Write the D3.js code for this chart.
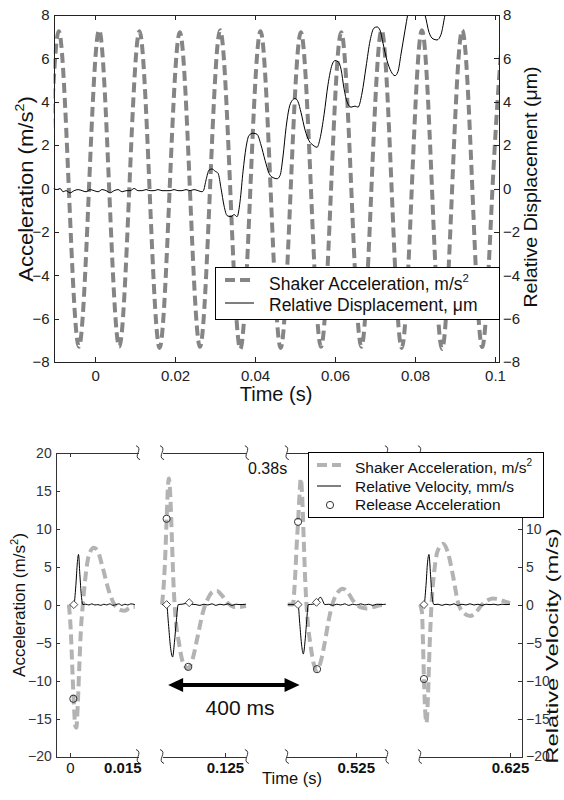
<!DOCTYPE html>
<html><head><meta charset="utf-8">
<script src="https://cdn.jsdelivr.net/npm/d3@7"></script>
<style>body{margin:0;background:#fff}svg{display:block}</style>
</head><body><svg id="c" width="564" height="800"></svg>
<script>
// ================= DATA =================
// --- top chart ---
const topXDomain = [-0.0104, 0.101];
const topYDomain = [-8, 8];
const topXTicks = [0, 0.02, 0.04, 0.06, 0.08, 0.1];
const topXTickLabels = ["0", "0.02", "0.04", "0.06", "0.08", "0.1"];
const topYTicks = [-8, -6, -4, -2, 0, 2, 4, 6, 8];
// shaker acceleration (m/s^2): [time s, value] at peaks, zero crossings and troughs
const shakerAccelTop = [
  [-0.01161,0],[-0.00909,7.25],[-0.00657,0],[-0.00405,-7.3],[-0.00153,0],[0.001,7.3],[0.00352,0],[0.00604,-7.3],
  [0.00856,0],[0.01109,7.25],[0.01361,0],[0.01613,-7.35],[0.01865,0],[0.02118,7.2],[0.0237,0],[0.02622,-7.3],
  [0.02874,0],[0.03127,7.3],[0.03379,0],[0.03631,-7.4],[0.03883,0],[0.04136,7.25],[0.04388,0],[0.0464,-7.35],
  [0.04892,0],[0.05145,7.2],[0.05397,0],[0.05649,-7.3],[0.05901,0],[0.06154,7.2],[0.06406,0],[0.06658,-7.3],
  [0.0691,0],[0.07163,7.3],[0.07415,0],[0.07667,-7.35],[0.07919,0],[0.08172,7.3],[0.08424,0],[0.08676,-7.4],
  [0.08928,0],[0.09181,7.3],[0.09433,0],[0.09685,-7.3],[0.09937,0],[0.1019,7.3]
];
// relative displacement (um): [time s, value]
const relDisplacement = [
  [-0.0104,0],[-0.0095,-0.05],[-0.00875,0],[-0.008,-0.15],[-0.00725,-0.1],[-0.00625,-0.2],[-0.00525,-0.1],
  [-0.00425,-0.05],[-0.00325,-0.1],[-0.00225,-0.15],[-0.00125,-0.05],[-0.00025,-0.1],[0.00075,-0.15],
  [0.00175,-0.05],[0.00275,-0.1],[0.00375,-0.2],[0.00475,-0.1],[0.00575,-0.05],[0.00675,-0.15],[0.00775,-0.1],
  [0.00875,-0.1],[0.00975,0],[0.01075,-0.1],[0.01175,-0.1],[0.01275,-0.05],[0.01375,-0.1],[0.01475,-0.1],
  [0.01575,-0.05],[0.01675,-0.1],[0.01775,-0.1],[0.01875,-0.1],[0.01975,-0.05],[0.02075,-0.1],[0.02175,-0.1],
  [0.02275,-0.05],[0.02375,-0.1],[0.02475,-0.05],[0.02575,-0.1],[0.02675,-0.15],
  [0.0271,-0.1],[0.02775,0.4],[0.0285,0.85],[0.02925,0.9],[0.03,0.8],[0.03075,0.7],[0.0315,0.0],[0.03225,-0.8],
  [0.033,-1.25],[0.034,-1.3],[0.03475,-1.2],[0.0355,-1.3],[0.03625,-0.6],[0.037,0.8],[0.03775,1.9],[0.0385,2.45],
  [0.0395,2.55],[0.0405,2.5],[0.0415,2.0],[0.0425,1.3],[0.0435,0.7],[0.0445,0.5],[0.0455,0.45],[0.04625,0.6],
  [0.047,1.5],[0.04775,2.8],[0.0485,3.7],[0.04925,4.05],[0.05,4.15],[0.05075,4.0],[0.0515,3.5],[0.0525,2.7],
  [0.0535,2.2],[0.0545,2.0],[0.0555,1.9],[0.05625,2.3],[0.05725,3.4],[0.05825,4.8],[0.05925,5.7],[0.06,5.9],
  [0.06075,5.85],[0.0615,5.5],[0.06225,4.6],[0.063,4.0],[0.064,3.75],[0.065,3.8],[0.06575,3.75],[0.06675,4.4],
  [0.06775,5.6],[0.06875,6.8],[0.06975,7.4],[0.0705,7.45],[0.07125,7.3],[0.072,6.7],[0.073,5.9],[0.074,5.4],
  [0.075,5.2],[0.07575,5.4],[0.0765,6.2],[0.0775,7.3],[0.07825,8.1],[0.07925,9.0],[0.0805,9.0],[0.0815,8.4],
  [0.0825,8.0],[0.0835,7.2],[0.0845,6.9],[0.0855,6.85],[0.0865,7.1],[0.0875,8.0],[0.08875,9.0],[0.09125,9.8],
  [0.09625,9.5],[0.101,10]
];
const topLegendLabels = ["Shaker Acceleration, m/s", "Relative Displacement, \u03bcm"];

// --- bottom chart (broken time axis) ---
const bottomYDomain = [-20, 20];
const bottomYTicks = [-20, -15, -10, -5, 0, 5, 10, 15, 20];
const bottomRightTicks = [-20, -15, -10, -5, 0, 5, 10];
const segDomains = [[-0.004, 0.0193], [0.1072, 0.1312], [0.5055, 0.5338], [0.5995, 0.6284]];
const segTicks = [0, 0.125, 0.525, 0.625];
const segTickLabels = ["0", "0.125", "0.525", "0.625"];
const segTickBold = [false, true, true, true];
const extraLabel = {seg: 0, t: 0.015, text: "0.015"};
const breakLabel = "0.38s";
const periodLabel = "400 ms";
// shaker acceleration per pulse [time s, m/s^2]
const pulseAccel = [
  [[-0.00028,0],[0.00028,-3.5],[0.00071,-8.5],[0.00113,-13],[0.00156,-16],[0.00184,-16.2],[0.00226,-13],[0.00269,-8],
   [0.00311,-3.5],[0.00368,0],[0.00439,3.5],[0.00538,6.5],[0.00679,7.5],[0.00793,7.0],[0.00934,4.8],[0.01104,1.8],
   [0.01274,-0.1],[0.01415,-0.7],[0.01557,-0.8],[0.01698,-0.4],[0.0184,-0.3]],
  [[0.10717,0],[0.10774,3],[0.10816,7],[0.1085,11.3],[0.10887,15.5],[0.10915,16.6],[0.10957,14],[0.11,8.5],
   [0.11042,3],[0.11099,-1.5],[0.11198,-5],[0.11311,-7.6],[0.11453,-8.4],[0.11594,-7],[0.11736,-4],[0.11877,-1],
   [0.12019,0.8],[0.1216,1.7],[0.12274,1.8],[0.12415,1.2],[0.12585,0.2],[0.12755,-0.3],[0.12925,-0.3],[0.13094,-0.2]],
  [[0.50575,0],[0.50717,0],[0.50788,4],[0.5083,8],[0.50867,10.9],[0.50915,15],[0.50943,16.6],[0.50986,14],
   [0.51028,8.5],[0.51071,3],[0.51127,-1.5],[0.51226,-5.5],[0.51311,-7.8],[0.5141,-8.6],[0.51509,-7.5],[0.51623,-5],
   [0.51736,-2],[0.51849,0.2],[0.51991,1.6],[0.52132,2.1],[0.52274,1.6],[0.52443,0.4],[0.52613,-0.3],[0.52811,-0.5],
   [0.53009,-0.3],[0.53179,-0.1],[0.53349,0]],
  [[0.59953,0],[0.6001,-1],[0.60038,-5],[0.60066,-9.8],[0.601,-14],[0.60137,-15.6],[0.6018,-12],[0.60222,-6],
   [0.60279,0],[0.60349,4],[0.60448,7],[0.60604,8],[0.60746,6.8],[0.60887,3.8],[0.61029,0.3],[0.6117,-1.0],
   [0.61368,-1.5],[0.61538,-1.0],[0.61707,0],[0.61877,0.6],[0.62019,0.8],[0.62189,0.7],[0.62358,0.4],[0.625,0.2]]
];
// relative velocity per pulse [time s, mm/s]
const pulseVelocity = [
  [[0,0],[0.00113,0],[0.0017,2.5],[0.00212,5.5],[0.00246,6.6],[0.00283,4],[0.00326,1.2],[0.00368,0],
   [0.00453,0.05],[0.00538,-0.05],[0.00623,0.1],[0.00708,-0.05],[0.00793,0],[0.00877,-0.1],[0.00962,0.05],
   [0.01047,-0.05],[0.01132,0.1],[0.01217,-0.1],[0.01302,0],[0.01387,0.1],[0.01472,-0.1],[0.01557,0.05],
   [0.01642,-0.05],[0.01727,0.1],[0.0184,0]],
  [[0.10717,0],[0.1085,0],[0.10901,-2.5],[0.10957,-5.5],[0.11019,-6.9],[0.1107,-5],[0.11127,-2],[0.11178,0],
   [0.11283,0.05],[0.11396,0.15],[0.11489,0.3],[0.11566,0.05],[0.11679,0],[0.11792,-0.1],[0.11906,0.05],
   [0.12019,-0.05],[0.12132,0.1],[0.12245,-0.1],[0.12358,0.05],[0.12472,-0.05],[0.12585,0.1],[0.12698,-0.1],
   [0.12811,0.05],[0.12925,0],[0.13094,0.05]],
  [[0.50575,0],[0.50867,0],[0.50915,-2.5],[0.50972,-5.5],[0.51014,-6.5],[0.51071,-4.5],[0.51113,-2],[0.51156,0],
   [0.51283,0.05],[0.51388,0.3],[0.51453,0.8],[0.5151,0.95],[0.51566,0.5],[0.51623,0],[0.51736,0.05],[0.51849,-0.1],
   [0.51962,0.05],[0.52075,-0.05],[0.52189,0.1],[0.52302,-0.1],[0.52415,0.05],[0.52528,-0.05],[0.52642,0.1],
   [0.52755,-0.05],[0.52868,0.05],[0.52981,-0.1],[0.53094,0.05],[0.53207,0],[0.53349,0.05]],
  [[0.59953,0],[0.60066,0],[0.60123,2.5],[0.60166,5.5],[0.60208,6.6],[0.60251,4],[0.60293,1.2],[0.6035,0],
   [0.60463,0.05],[0.60576,-0.1],[0.60689,0.05],[0.60802,-0.05],[0.60915,0.1],[0.61029,-0.1],[0.61142,0.05],
   [0.61255,-0.05],[0.61368,0.1],[0.61481,-0.05],[0.61594,0.05],[0.61707,-0.1],[0.6182,0.05],[0.61934,0],
   [0.62047,0.05],[0.6216,-0.05],[0.62273,0.05],[0.62387,0],[0.625,0.05]]
];
// release acceleration markers per pulse [time s, m/s^2]
const releaseAccel = [
  [[0.00099,-12.4]],
  [[0.1085,11.3],[0.11462,-8.2]],
  [[0.50867,10.9],[0.51404,-8.5]],
  [[0.60066,-9.8]]
];
// velocity zero markers (diamonds) per pulse
const velocityMarks = [
  [[0.00113,0]],
  [[0.1085,0],[0.11489,0.25]],
  [[0.50867,0],[0.51388,0.3]],
  [[0.60066,0]]
];
const bottomLegendLabels = ["Shaker Acceleration, m/s", "Relative Velocity, mm/s", "Release Acceleration"];

// ================= DRAW =================
const FONT = '"Liberation Sans", Arial, Helvetica, sans-serif';
const svg = d3.select("#c");
const AX = "#222";

function styleAxis(g, size, color, bold) {
  g.attr("font-family", FONT).attr("font-size", size).attr("color", color || AX);
  g.selectAll("path,line").attr("stroke", color || AX).attr("shape-rendering", "crispEdges");
  if (bold) g.selectAll("text").attr("font-weight", "bold");
}
function label(parent, x, y, size, parts, opt) {
  opt = opt || {};
  const g = parent.append("g").attr("transform",
    `translate(${x},${y}) scale(1,${opt.sy || 1}) rotate(${opt.rot || 0})`);
  const t = g.append("text").attr("font-family", FONT).attr("font-size", size)
    .attr("text-anchor", opt.anchor || "middle").attr("fill", opt.fill || "#111")
    .attr("font-weight", opt.weight || "normal");
  parts.forEach(p => {
    if (typeof p === "string") t.append("tspan").text(p);
    else if (p.sup) t.append("tspan").attr("font-size", size * 0.65).attr("dy", -size * 0.45).text(p.sup);
    else if (p.down) t.append("tspan").attr("dy", size * 0.45).text(p.down);
  });
  return t;
}

// ---------- TOP CHART ----------
const T = {l: 53.5, r: 499, t: 15, b: 362};
const xT = d3.scaleLinear().domain(topXDomain).range([T.l, T.r]);
const yT = d3.scaleLinear().domain(topYDomain).range([T.b, T.t]);
const gT = svg.append("g");
svg.append("clipPath").attr("id", "clipT").append("rect")
  .attr("x", T.l).attr("y", T.t).attr("width", T.r - T.l).attr("height", T.b - T.t);

const plotT = gT.append("g").attr("clip-path", "url(#clipT)");
plotT.append("path").datum(shakerAccelTop)
  .attr("d", d3.line().x(d => xT(d[0])).y(d => yT(d[1])).curve(d3.curveNatural))
  .attr("fill", "none").attr("stroke", "#858585").attr("stroke-width", 4).attr("stroke-dasharray", "10,5");
plotT.append("path").datum(relDisplacement)
  .attr("d", d3.line().x(d => xT(d[0])).y(d => yT(d[1])).curve(d3.curveMonotoneX))
  .attr("fill", "none").attr("stroke", "#000").attr("stroke-width", 1);

const axB = gT.append("g").attr("transform", `translate(0,${T.b})`)
  .call(d3.axisBottom(xT).tickValues(topXTicks).tickFormat((d, i) => topXTickLabels[i])
    .tickSizeInner(-5).tickSizeOuter(0).tickPadding(8));
styleAxis(axB, 15);
const axTop = gT.append("g").attr("transform", `translate(0,${T.t})`)
  .call(d3.axisTop(xT).tickValues(topXTicks).tickFormat("").tickSizeInner(-5).tickSizeOuter(0));
styleAxis(axTop, 15);
const axL = gT.append("g").attr("transform", `translate(${T.l},0)`)
  .call(d3.axisLeft(yT).tickValues(topYTicks).tickSizeInner(-5).tickSizeOuter(0).tickPadding(4));
styleAxis(axL, 15);
const axR = gT.append("g").attr("transform", `translate(${T.r},0)`)
  .call(d3.axisRight(yT).tickValues(topYTicks).tickSizeInner(-5).tickSizeOuter(0).tickPadding(4));
styleAxis(axR, 15);

label(svg, 33, 189, 21, ["Acceleration (m/s", {sup: "2"}, {down: ")"}], {rot: -90, sy: 1.05});
label(svg, 537, 187, 18, ["Relative Displacement (\u03bcm)"], {rot: -90, sy: 1.09});
label(svg, 276, 401, 20, ["Time (s)"]);

// top legend
const lgT = svg.append("g");
lgT.append("rect").attr("x", 215).attr("y", 267).attr("width", T.r - 215).attr("height", 52)
  .attr("fill", "#fff").attr("stroke", "#000").attr("stroke-width", 1).attr("shape-rendering", "crispEdges");
lgT.append("line").attr("x1", 225).attr("x2", 254).attr("y1", 280).attr("y2", 280)
  .attr("stroke", "#858585").attr("stroke-width", 4).attr("stroke-dasharray", "10,5");
lgT.append("line").attr("x1", 225).attr("x2", 254).attr("y1", 303).attr("y2", 303)
  .attr("stroke", "#000").attr("stroke-width", 1);
label(lgT, 269, 290, 17.5, [topLegendLabels[0], {sup: "2"}], {anchor: "start"});
label(lgT, 269, 311, 17.5, [topLegendLabels[1]], {anchor: "start"});

// ---------- BOTTOM CHART ----------
const B = {l: 55.7, r: 522, t: 452.7, b: 756.5};
const BC = "#333";
const yB = d3.scaleLinear().domain(bottomYDomain).range([B.b, B.t]);
const gaps = [24, 40, 33];
const totalSpan = d3.sum(segDomains, d => d[1] - d[0]);
const pxPerSec = (B.r - B.l - d3.sum(gaps)) / totalSpan;
let cursor = B.l;
const segScales = segDomains.map((d, i) => {
  const w = (d[1] - d[0]) * pxPerSec;
  const s = d3.scaleLinear().domain(d).range([cursor, cursor + w]);
  cursor += w + (gaps[i] || 0);
  return s;
});

const gB = svg.append("g");
const bL = gB.append("g").attr("transform", `translate(${B.l},0)`)
  .call(d3.axisLeft(yB).tickValues(bottomYTicks).tickSizeInner(-4).tickSizeOuter(0).tickPadding(4));
styleAxis(bL, 14, BC);
const bR = gB.append("g").attr("transform", `translate(${B.r},0)`)
  .call(d3.axisRight(yB).tickValues(bottomRightTicks).tickSizeInner(-4).tickSizeOuter(0).tickPadding(4));
styleAxis(bR, 14, BC);

function squiggle(x, y, dir) {
  return `M${x - 2 * dir},${y - 7} C${x + 6 * dir},${y - 4} ${x - 6 * dir},${y + 4} ${x + 2 * dir},${y + 7}`;
}
segScales.forEach((s, i) => {
  const bot = gB.append("g").attr("transform", `translate(0,${B.b})`)
    .call(d3.axisBottom(s).tickValues([segTicks[i]]).tickFormat(() => segTickLabels[i])
      .tickSizeInner(-4).tickSizeOuter(0).tickPadding(6));
  styleAxis(bot, 15, BC, segTickBold[i]);
  bot.selectAll("text").attr("fill", "#111");
  const top = gB.append("g").attr("transform", `translate(0,${B.t})`)
    .call(d3.axisTop(s).tickValues(i === 0 ? [segTicks[i]] : []).tickFormat("").tickSizeInner(-4).tickSizeOuter(0));
  styleAxis(top, 15, BC);
  const [r0, r1] = s.range();
  [B.t, B.b].forEach(yy => {
    if (i > 0) gB.append("path").attr("d", squiggle(r0, yy, 1)).attr("fill", "none").attr("stroke", BC);
    if (i < segScales.length - 1) gB.append("path").attr("d", squiggle(r1, yy, 1)).attr("fill", "none").attr("stroke", BC);
  });
});
label(gB, segScales[extraLabel.seg](extraLabel.t), 773, 15, [extraLabel.text], {weight: "bold"});

segScales.forEach((s, i) => {
  gB.append("path").datum(pulseAccel[i])
    .attr("d", d3.line().x(d => s(d[0])).y(d => yB(d[1])).curve(d3.curveMonotoneX))
    .attr("fill", "none").attr("stroke", "#b3b3b3").attr("stroke-width", 4).attr("stroke-dasharray", "10,5");
  gB.append("path").datum(pulseVelocity[i])
    .attr("d", d3.line().x(d => s(d[0])).y(d => yB(d[1])).curve(d3.curveMonotoneX))
    .attr("fill", "none").attr("stroke", "#000").attr("stroke-width", 1);
  gB.selectAll(null).data(velocityMarks[i]).enter().append("path")
    .attr("d", d3.symbol(d3.symbolDiamond2, 40)())
    .attr("transform", d => `translate(${s(d[0])},${yB(d[1])})`)
    .attr("fill", "#fff").attr("stroke", "#333").attr("stroke-width", 0.9);
  gB.selectAll(null).data(releaseAccel[i]).enter().append("circle")
    .attr("cx", d => s(d[0])).attr("cy", d => yB(d[1])).attr("r", 3.6)
    .attr("fill", "none").attr("stroke", "#333").attr("stroke-width", 1);
});

// 400 ms arrow between release points of pulse 2 and 3
const ax1 = segScales[1](releaseAccel[1][0][0]) + 1.5;
const ax2 = segScales[2](releaseAccel[2][0][0]) + 1.5;
const ay = 685;
gB.append("line").attr("x1", ax1 + 10).attr("x2", ax2 - 10).attr("y1", ay).attr("y2", ay)
  .attr("stroke", "#000").attr("stroke-width", 4);
gB.append("path").attr("d", `M${ax1},${ay} L${ax1 + 15},${ay - 7} L${ax1 + 15},${ay + 7} Z`).attr("fill", "#000");
gB.append("path").attr("d", `M${ax2},${ay} L${ax2 - 15},${ay - 7} L${ax2 - 15},${ay + 7} Z`).attr("fill", "#000");
label(gB, 240, 715, 21, [periodLabel]);
label(gB, 248, 474, 16, [breakLabel], {anchor: "start"});

label(svg, 25, 605, 16, ["Acceleration (m/s", {sup: "2"}, {down: ")"}], {rot: -90, sy: 1.07});
label(svg, 558, 646, 17, ["Relative Velocity (m/s)"], {rot: -90, sy: 1.4});
label(svg, 292, 784, 16.5, ["Time (s)"]);

// bottom legend
const lgB = svg.append("g");
lgB.append("rect").attr("x", 308).attr("y", 452).attr("width", 235).attr("height", 65)
  .attr("fill", "#fff").attr("stroke", "#000").attr("stroke-width", 1).attr("shape-rendering", "crispEdges");
lgB.append("line").attr("x1", 317).attr("x2", 341).attr("y1", 465).attr("y2", 465)
  .attr("stroke", "#b3b3b3").attr("stroke-width", 4).attr("stroke-dasharray", "10,5");
lgB.append("line").attr("x1", 317).attr("x2", 341).attr("y1", 486).attr("y2", 486)
  .attr("stroke", "#000").attr("stroke-width", 1);
lgB.append("circle").attr("cx", 330).attr("cy", 505).attr("r", 3.6)
  .attr("fill", "#fff").attr("stroke", "#333");
label(lgB, 355, 473, 15.5, [bottomLegendLabels[0], {sup: "2"}], {anchor: "start"});
label(lgB, 355, 492, 15.5, [bottomLegendLabels[1]], {anchor: "start"});
label(lgB, 355, 510, 15.5, [bottomLegendLabels[2]], {anchor: "start"});
</script></body></html>
